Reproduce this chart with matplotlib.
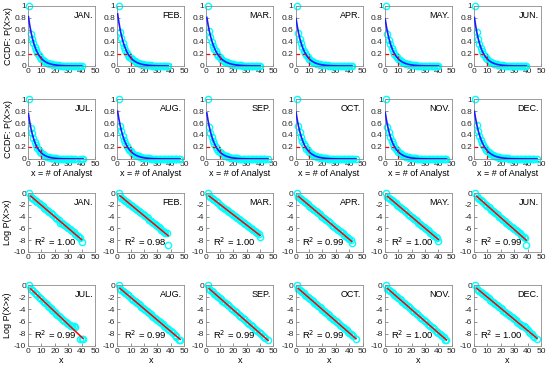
import numpy as np
import matplotlib
matplotlib.use("Agg")
import matplotlib.pyplot as plt

plt.rcParams['font.family'] = ['Liberation Sans', 'DejaVu Sans']
plt.rcParams['axes.unicode_minus'] = False

months = ["JAN.", "FEB.", "MAR.", "APR.", "MAY.", "JUN.",
          "JUL.", "AUG.", "SEP.", "OCT.", "NOV.", "DEC."]
r2 = ["1.00", "0.98", "1.00", "0.99", "1.00", "0.99",
      "0.99", "0.99", "0.99", "0.99", "1.00", "1.00"]

# log P(X>x), x = 1, 2, 3, ... then the tail x values
logp = {
    "JAN.": [0, -0.62, -0.80, -0.98, -1.15, -1.33, -1.55, -1.72, -1.90, -2.10,
             -2.28, -2.48, -2.66, -2.85, -3.05, -3.22, -3.42, -3.60, -3.80, -4.00,
             -4.18, -4.40, -4.58, -5.00, -5.05, -5.20, -5.38, -5.58, -5.75, -5.95,
             -6.12, -6.30, -6.50, -6.68, -6.88, -7.05, -7.25, -7.45, -7.62, -8.30],
    "FEB.": [0, -0.58, -0.78, -0.97, -1.14, -1.30, -1.50, -1.66, -1.85, -2.02,
             -2.20, -2.38, -2.55, -2.72, -2.90, -3.08, -3.25, -3.43, -3.60, -3.78,
             -3.95, -4.15, -4.30, -4.50, -4.68, -4.85, -5.05, -5.22, -5.40, -5.60,
             -5.78, -6.00, -6.20, -6.40, -6.55, -6.75, -6.80, -8.80],
    "MAR.": [0, -0.55, -0.74, -0.90, -1.08, -1.25, -1.42, -1.60, -1.76, -1.95,
             -2.12, -2.30, -2.46, -2.64, -2.80, -2.98, -3.15, -3.33, -3.50, -3.66,
             -3.85, -4.02, -4.20, -4.36, -4.55, -4.72, -4.90, -5.05, -5.25, -5.40,
             -5.58, -5.75, -5.93, -6.10, -6.28, -6.45, -6.62, -6.80, -6.98, -7.40],
    "APR.": [0, -0.60, -0.80, -0.98, -1.17, -1.36, -1.55, -1.74, -1.93, -2.12,
             -2.30, -2.50, -2.69, -2.88, -3.06, -3.26, -3.45, -3.64, -3.83, -4.02,
             -4.20, -4.40, -4.58, -4.78, -4.97, -5.16, -5.35, -5.54, -5.72, -5.90,
             -6.10, -6.30, -6.48, -6.66, -6.86, -7.05, -7.24, -7.42, -7.60, -7.80,
             -8.00, -8.40],
    "MAY.": [0, -0.62, -0.82, -1.00, -1.20, -1.38, -1.58, -1.76, -1.95, -2.15,
             -2.34, -2.52, -2.72, -2.90, -3.10, -3.28, -3.48, -3.66, -3.86, -4.05,
             -4.24, -4.42, -4.62, -4.80, -5.00, -5.18, -5.38, -5.56, -5.76, -5.95,
             -6.14, -6.32, -6.52, -6.70, -6.90, -7.08, -7.28, -7.46, -7.66, -8.10],
    "JUN.": [0, -0.58, -0.80, -1.00, -1.18, -1.40, -1.60, -1.80, -2.00, -2.20,
             -2.40, -2.60, -2.80, -3.00, -3.20, -3.40, -3.60, -3.80, -4.00, -4.20,
             -4.40, -4.60, -4.80, -5.00, -5.18, -5.38, -5.58, -5.78, -5.98, -6.15,
             -6.32, -6.50, -6.68, -6.85, -7.05, -7.25, -7.45, -7.60, -8.80],
    "JUL.": [0, -0.65, -0.85, -1.05, -1.28, -1.48, -1.70, -1.90, -2.12, -2.33,
             -2.55, -2.75, -2.98, -3.18, -3.40, -3.60, -3.82, -4.02, -4.25, -4.45,
             -4.68, -4.88, -5.10, -5.30, -5.52, -5.72, -5.92, -6.10, -6.28, -6.42,
             -6.55, -6.65, -6.72, -6.78, -6.82, -8.85, -8.90, -8.92],
    "AUG.": [0, -0.60, -0.78, -0.96, -1.15, -1.33, -1.52, -1.70, -1.88, -2.06,
             -2.25, -2.43, -2.62, -2.80, -2.98, -3.16, -3.35, -3.53, -3.72, -3.90,
             -4.08, -4.26, -4.45, -4.63, -4.82, -5.00, -5.18, -5.36, -5.55, -5.73,
             -5.92, -6.10, -6.28, -6.46, -6.65, -6.83, -7.02, -7.20, -7.38, -7.56,
             -7.75, -7.93, -8.12, -8.30, -8.50, -8.95, -9.00],
    "SEP.": [0, -0.62, -0.82, -1.00, -1.20, -1.40, -1.58, -1.78, -1.97, -2.16,
             -2.35, -2.55, -2.74, -2.93, -3.12, -3.32, -3.50, -3.70, -3.89, -4.08,
             -4.28, -4.46, -4.66, -4.85, -5.04, -5.24, -5.42, -5.62, -5.80, -6.00,
             -6.20, -6.38, -6.58, -6.76, -6.96, -7.15, -7.34, -7.54, -7.72, -7.92,
             -8.10, -8.30, -8.50, -8.70, -9.00],
    "OCT.": [0, -0.60, -0.80, -0.99, -1.18, -1.37, -1.56, -1.75, -1.94, -2.13,
             -2.32, -2.51, -2.70, -2.89, -3.08, -3.27, -3.46, -3.65, -3.84, -4.03,
             -4.22, -4.41, -4.60, -4.79, -4.98, -5.17, -5.36, -5.55, -5.74, -5.93,
             -6.12, -6.31, -6.50, -6.69, -6.88, -7.07, -7.26, -7.45, -7.64, -7.83,
             -8.02, -8.21, -8.40, -8.80],
    "NOV.": [0, -0.62, -0.81, -1.00, -1.19, -1.38, -1.57, -1.76, -1.95, -2.14,
             -2.33, -2.52, -2.71, -2.90, -3.09, -3.28, -3.47, -3.66, -3.85, -4.04,
             -4.23, -4.42, -4.61, -4.80, -4.99, -5.18, -5.37, -5.56, -5.75, -5.94,
             -6.13, -6.32, -6.51, -6.70, -6.89, -7.08, -7.27, -7.46, -7.65, -7.84,
             -8.03, -8.22, -8.41, -8.60, -8.95, -9.00],
    "DEC.": [0, -0.58, -0.77, -0.95, -1.13, -1.31, -1.49, -1.67, -1.85, -2.03,
             -2.21, -2.39, -2.57, -2.75, -2.93, -3.11, -3.29, -3.47, -3.65, -3.83,
             -4.01, -4.19, -4.37, -4.55, -4.73, -4.91, -5.09, -5.27, -5.45, -5.63,
             -5.81, -5.99, -6.17, -6.35, -6.53, -6.70, -6.80, -6.85, -7.10, -7.40,
             -7.65, -7.90, -8.10, -8.30, -8.50, -8.80],
}
tail_x = {
    "JAN.": [40], "FEB.": [38], "MAR.": [40], "APR.": [42], "MAY.": [40],
    "JUN.": [39], "JUL.": [39, 40, 41], "AUG.": [44, 46, 47], "SEP.": [46],
    "OCT.": [45], "NOV.": [45, 46], "DEC.": [47],
}

# CCDF guide lines
guide_y = 0.2
guide_x = 10

cyan = "#00FFFF"
W, H = 550, 372
fig = plt.figure(figsize=(W / 100, H / 100), dpi=100)

col_left = [28 + 89.2 * c for c in range(6)]
ax_w = 67
row_geo = [(6, 66), (99, 159), (193, 252), (285, 346)]


def make_ax(row, col):
    top, bot = row_geo[row]
    ax = fig.add_axes([col_left[col] / W, (H - bot) / H, ax_w / W, (bot - top) / H])
    for s in ax.spines.values():
        s.set_color("0.55")
        s.set_linewidth(0.6)
    ax.tick_params(direction="in", length=2, width=0.5, pad=1.5,
                   labelsize=6, color="0.4", labelcolor="0.15")
    ax.set_xlim(0, 50)
    ax.set_xticks([0, 10, 20, 30, 40, 50])
    return ax


for i, m in enumerate(months):
    lp = np.array(logp[m])
    tx = tail_x[m]
    x = np.array(list(range(1, len(lp) - len(tx) + 1)) + tx)
    slope, icpt = np.polyfit(x, lp, 1)
    r, c = divmod(i, 6)

    # CCDF panel
    ax = make_ax(r, c)
    ax.set_ylim(0, 1)
    ax.set_yticks([0, 0.2, 0.4, 0.6, 0.8, 1])
    ax.set_yticklabels(["0", "0.2", "0.4", "0.6", "0.8", "1"])
    ax.plot(x, np.exp(lp), "o", mfc="none", mec=cyan, ms=4.5, mew=1.0, clip_on=False, zorder=2)
    xf = np.linspace(0.3, x.max(), 200)
    ax.plot(xf, np.minimum(np.exp(icpt + slope * xf), 1), color="#1a1aff", lw=1.2, zorder=3)
    ax.plot([0, guide_x], [guide_y, guide_y], color="red", lw=0.9, ls=(0, (3, 2)), zorder=4)
    ax.plot([guide_x, guide_x], [0, guide_y], color="red", lw=0.9, ls=(0, (3, 2)), zorder=4)
    ax.text(0.97, 0.84, m, transform=ax.transAxes, ha="right", va="center", fontsize=6.5)
    if c == 0:
        ax.set_ylabel("CCDF: P(X>x)", fontsize=6.5, labelpad=1)
    if r == 1:
        ax.set_xlabel("x = # of Analyst", fontsize=6.5, labelpad=1)

    # log panel
    ax = make_ax(r + 2, c)
    ax.set_ylim(-10, 0)
    ax.set_yticks([-10, -8, -6, -4, -2, 0])
    ax.plot(x, lp, "o", mfc="none", mec=cyan, ms=4.5, mew=1.0, clip_on=False, zorder=2)
    ax.plot([x[1], x.max()], [icpt + slope * x[1], icpt + slope * x.max()],
            color="red", lw=1.1, zorder=3)
    ax.text(0.97, 0.84, m, transform=ax.transAxes, ha="right", va="center", fontsize=6.5)
    ax.text(20.5, -8.2, "R$^2$ = " + r2[i], ha="center", va="center", fontsize=6.8)
    if c == 0:
        ax.set_ylabel("Log P(X>x)", fontsize=6.5, labelpad=1)
    if r == 1:
        ax.set_xlabel("x", fontsize=6.5, labelpad=1)

fig.savefig("out.png", dpi=100)
